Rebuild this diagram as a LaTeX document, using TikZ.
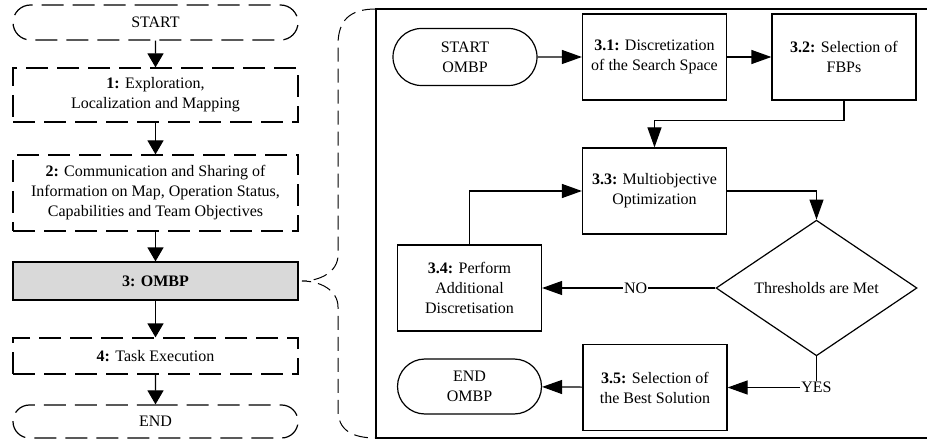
\documentclass[tikz,border=0pt]{standalone}
\usepackage{fontspec}
\setmainfont{Liberation Serif}
\usepackage{tikz}
\usetikzlibrary{arrows.meta}
\usetikzlibrary{shapes.misc}
\usetikzlibrary{shapes.geometric}

\tikzset{
  stage/.style={draw,dash pattern=on 22pt off 9pt,line width=1.2pt,minimum width=285pt,align=center,inner sep=0pt},
  term/.style={stage,rounded rectangle},
  omb/.style={draw,line width=1.2pt,fill=gray!30,minimum width=285pt,minimum height=38pt},
  proc/.style={draw,line width=1.2pt,minimum width=144pt,minimum height=86pt,align=center,inner sep=0pt},
  capsule/.style={draw,rounded rectangle,line width=1.2pt,minimum width=144pt,minimum height=57pt,align=center,inner sep=0pt},
  check/.style={draw,diamond,line width=1.2pt,minimum width=201pt,minimum height=130pt,inner sep=0pt},
  seqarrow/.style={line width=1.2pt,-{Triangle[length=14pt,width=16pt]}},
  subarrow/.style={line width=1.2pt,-{Triangle[length=20pt,width=14pt]}},
  answer/.style={fill=white,inner sep=1pt}
}

\begin{document}
\begin{tikzpicture}[x=1pt,y=-1pt,every node/.style={font=\fontsize{16}{20}\selectfont}]
  \useasboundingbox (0,0) rectangle (927,441);

  % main sequence
  \node[term,minimum height=35pt] (start) at (155.5,22.5) {START};
  \node[stage,minimum height=54pt] (explore) at (155.5,95) {\textbf{1:} Exploration,\\Localization and Mapping};
  \node[stage,minimum height=76pt] (share) at (155.5,193) {\textbf{2:} Communication and Sharing of\\Information on Map, Operation Status,\\Capabilities and Team Objectives};
  \node[omb] (ombp) at (155.5,281) {\textbf{3: OMBP}};
  \node[stage,minimum height=36pt] (task) at (155.5,356) {\textbf{4:} Task Execution};
  \node[term,minimum height=33pt] (end) at (155.5,421.5) {END};

  \draw[seqarrow] (start) -- (explore);
  \draw[seqarrow] (explore) -- (share);
  \draw[seqarrow] (share) -- (ombp);
  \draw[seqarrow] (ombp) -- (task);
  \draw[seqarrow] (task) -- (end);

  % zoom brace and frame
  \draw[line width=1pt,dash pattern=on 14pt off 7pt] (376,9) .. controls (350,9) and (338,20) .. (338,45) -- (338,255)
     .. controls (338,272) and (320,281) .. (302,281) .. controls (320,281) and (338,290) .. (338,307) -- (338,410)
     .. controls (338,430) and (352,438) .. (376,438);
  \draw[line width=1.2pt] (927,9) -- (376,9) -- (376,438) -- (927,438);

  % OMBP detail
  \node[capsule] (ostart) at (465,57) {START\\OMBP};
  \node[proc] (disc) at (654.5,57) {\textbf{3.1:} Discretization\\of the Search Space};
  \node[proc] (fbp) at (844,57) {\textbf{3.2:} Selection of\\FBPs};
  \node[proc] (moo) at (654.5,191) {\textbf{3.3:} Multiobjective\\Optimization};
  \node[proc] (more) at (469.5,288) {\textbf{3.4:} Perform\\Additional\\Discretisation};
  \node[check] (thr) at (816.5,288) {Thresholds are Met};
  \node[proc] (best) at (655,387.5) {\textbf{3.5:} Selection of\\the Best Solution};
  \node[capsule,minimum height=55pt] (oend) at (469.5,386.5) {END\\OMBP};

  \draw[subarrow] (ostart) -- (disc);
  \draw[subarrow] (disc) -- (fbp);
  \draw[subarrow] (fbp.south) -- ++(0,20) -| (moo.north);
  \draw[subarrow] (moo.east) -| (thr.north);
  \draw[subarrow] (thr.west) -- node[answer,pos=0.46] {NO} (more.east);
  \draw[subarrow] (more.north) |- (moo.west);
  \draw[subarrow] (thr.south) |- node[answer] {YES} (best.east);
  \draw[subarrow] (best) -- (oend);
\end{tikzpicture}
\end{document}
